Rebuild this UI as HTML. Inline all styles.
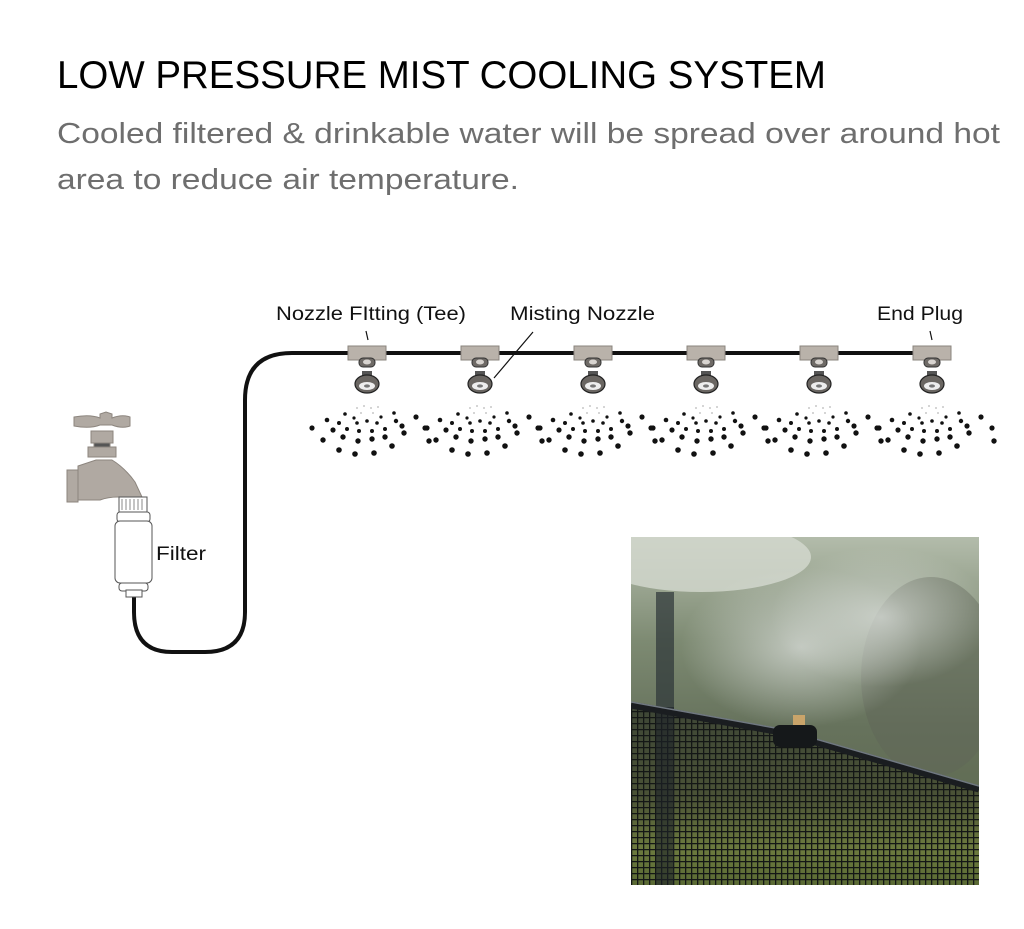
<!DOCTYPE html>
<html><head><meta charset="utf-8"><style>
html,body{margin:0;padding:0;background:#fff;}
svg{display:block;}
</style></head><body>
<svg width="1024" height="929" viewBox="0 0 1024 929" xmlns="http://www.w3.org/2000/svg">
<defs>
<g id="spray">
<g fill="#c8c8c8"><circle cx="-10" cy="55" r="1"/><circle cx="-3" cy="53" r="1"/><circle cx="4" cy="55" r="1"/><circle cx="11" cy="54" r="1"/><circle cx="-6" cy="60" r="1"/><circle cx="6" cy="60" r="1"/></g>
<g fill="#111">
<circle cx="-22" cy="61" r="1.8"/><circle cx="-13" cy="65" r="1.6"/><circle cx="14" cy="64" r="1.6"/><circle cx="27" cy="60" r="1.8"/>
<circle cx="-40" cy="67" r="2.3"/><circle cx="-28" cy="70" r="2"/><circle cx="-10" cy="70" r="1.8"/><circle cx="0" cy="68" r="1.8"/><circle cx="10" cy="70" r="1.8"/><circle cx="29" cy="68" r="2.2"/><circle cx="49" cy="64" r="2.6"/>
<circle cx="-55" cy="75" r="2.6"/><circle cx="-34" cy="77" r="2.6"/><circle cx="-20" cy="76" r="2"/><circle cx="-8" cy="78" r="2"/><circle cx="5" cy="78" r="2"/><circle cx="18" cy="76" r="2"/><circle cx="35" cy="73" r="2.6"/><circle cx="60" cy="75" r="2.6"/>
<circle cx="-44" cy="87" r="2.7"/><circle cx="-24" cy="84" r="2.7"/><circle cx="-9" cy="88" r="2.7"/><circle cx="5" cy="86" r="2.7"/><circle cx="18" cy="84" r="2.7"/><circle cx="37" cy="80" r="2.7"/><circle cx="62" cy="88" r="2.7"/>
<circle cx="-28" cy="97" r="2.8"/><circle cx="-12" cy="101" r="2.8"/><circle cx="7" cy="100" r="2.8"/><circle cx="25" cy="93" r="2.8"/>
</g>
</g>
<g id="noz">
<rect x="-19" y="-7" width="38" height="14" fill="#b9b2aa" stroke="#8a847e" stroke-width="1"/>
<rect x="-8" y="5" width="16" height="9" rx="4" fill="#6e6a66" stroke="#333" stroke-width="1"/>
<ellipse cx="0" cy="9" rx="4" ry="2.5" fill="#d8d4d0"/>
<rect x="-5" y="18" width="10" height="8" fill="#555"/>
<ellipse cx="0" cy="31" rx="12" ry="9" fill="#6a6662" stroke="#222" stroke-width="1.2"/>
<ellipse cx="0" cy="33" rx="8" ry="4" fill="#eee"/>
<ellipse cx="0" cy="33" rx="3" ry="1.6" fill="#777"/>
</g>
<linearGradient id="bg" x1="0" y1="0" x2="0" y2="1">
<stop offset="0" stop-color="#b3bcab"/><stop offset="0.3" stop-color="#7d8a72"/><stop offset="0.55" stop-color="#66725c"/><stop offset="1" stop-color="#5a6448"/>
</linearGradient>
<linearGradient id="gr" x1="0" y1="0" x2="0" y2="1">
<stop offset="0" stop-color="#3e4636"/><stop offset="0.5" stop-color="#4a5236"/><stop offset="0.8" stop-color="#6c7a3e"/><stop offset="1" stop-color="#5a6a34"/>
</linearGradient>
<pattern id="mesh" width="6" height="6" patternUnits="userSpaceOnUse">
<path d="M0 0H6M0 0V6" stroke="#141716" stroke-width="2.6"/>
</pattern>
<radialGradient id="mist" cx="0.5" cy="0.5" r="0.5">
<stop offset="0" stop-color="#d8dcd8" stop-opacity="0.75"/><stop offset="1" stop-color="#d8dcd8" stop-opacity="0"/>
</radialGradient>
</defs>

<text x="57" y="88" font-family="Liberation Sans, sans-serif" font-size="39" fill="#000" textLength="769" lengthAdjust="spacingAndGlyphs">LOW PRESSURE MIST COOLING SYSTEM</text>
<text x="57" y="143" font-family="Liberation Sans, sans-serif" font-size="29" fill="#6e6e6e" textLength="943" lengthAdjust="spacingAndGlyphs">Cooled filtered &amp; drinkable water will be spread over around hot</text>
<text x="57" y="189" font-family="Liberation Sans, sans-serif" font-size="29" fill="#6e6e6e" textLength="462" lengthAdjust="spacingAndGlyphs">area to reduce air temperature.</text>

<g font-family="Liberation Sans, sans-serif" font-size="19" fill="#111">
<text x="276" y="320" textLength="190" lengthAdjust="spacingAndGlyphs">Nozzle FItting (Tee)</text>
<text x="510" y="320" textLength="145" lengthAdjust="spacingAndGlyphs">Misting Nozzle</text>
<text x="877" y="320" textLength="86" lengthAdjust="spacingAndGlyphs">End Plug</text>
<text x="156" y="560" textLength="50" lengthAdjust="spacingAndGlyphs">Filter</text>
</g>
<line x1="366" y1="331" x2="368" y2="340" stroke="#111" stroke-width="1.2"/>
<line x1="930" y1="331" x2="932" y2="340" stroke="#111" stroke-width="1.2"/>
<line x1="533" y1="332" x2="494" y2="378" stroke="#111" stroke-width="1.2"/>

<path d="M134 596 L134 612 Q134 652 172 652 L205 652 Q245 652 245 612 L245 400 Q245 353 292 353 L948 353" fill="none" stroke="#111" stroke-width="4"/>

<use href="#noz" x="367" y="353"/><use href="#noz" x="480" y="353"/><use href="#noz" x="593" y="353"/><use href="#noz" x="706" y="353"/><use href="#noz" x="819" y="353"/><use href="#noz" x="932" y="353"/>
<use href="#spray" x="367" y="353"/><use href="#spray" x="480" y="353"/><use href="#spray" x="593" y="353"/><use href="#spray" x="706" y="353"/><use href="#spray" x="819" y="353"/><use href="#spray" x="932" y="353"/>

<g fill="#b0a9a2" stroke="#8c857e" stroke-width="1">
<path d="M74 417 Q90 414 100 418 L100 414 L106 412 L112 414 L112 418 Q122 414 130 417 L130 426 Q122 429 112 425 L100 425 Q90 429 74 426 Z"/>
<rect x="91" y="431" width="22" height="12"/>
<rect x="94" y="443" width="16" height="4" fill="#555"/>
<rect x="88" y="447" width="28" height="10"/>
<path d="M78 466 L96 460 L112 460 Q125 468 135 482 L142 497 L118 497 Q108 497 100 500 L78 500 Z"/>
<rect x="67" y="470" width="11" height="32"/>
</g>
<rect x="119" y="497" width="28" height="15" fill="#fff" stroke="#555"/>
<path d="M122 499V510M126 499V510M130 499V510M134 499V510M138 499V510M142 499V510" stroke="#888"/>
<rect x="117" y="512" width="33" height="10" rx="3" fill="#fff" stroke="#555"/>
<rect x="115" y="521" width="37" height="62" rx="5" fill="#fff" stroke="#555"/>
<rect x="119" y="583" width="29" height="8" rx="3" fill="#fff" stroke="#555"/>
<rect x="126" y="590" width="16" height="7" fill="#fff" stroke="#555"/>

<svg x="631" y="537" width="348" height="348" viewBox="0 0 348 348">
<rect width="348" height="348" fill="url(#bg)"/>
<ellipse cx="70" cy="20" rx="110" ry="35" fill="#d4d9cf" opacity="0.8"/>
<ellipse cx="300" cy="140" rx="70" ry="100" fill="#5f6657" opacity="0.5"/>
<ellipse cx="170" cy="110" rx="120" ry="80" fill="url(#mist)"/>
<ellipse cx="250" cy="80" rx="110" ry="70" fill="url(#mist)"/>
<rect x="25" y="55" width="18" height="293" fill="#2c3438" opacity="0.7"/>
<path d="M0 168 L150 195 L348 250 L348 348 L0 348 Z" fill="url(#gr)"/>
<path d="M0 168 L150 195 L348 250 L348 348 L0 348 Z" fill="url(#mesh)"/>
<rect x="25" y="170" width="18" height="178" fill="#1c2228" opacity="0.6"/>
<path d="M0 168 L150 195 L348 252" fill="none" stroke="#1a1d20" stroke-width="7"/>
<path d="M0 165 L150 192 L348 249" fill="none" stroke="#707880" stroke-width="1.5"/>
<rect x="142" y="188" width="44" height="22" rx="7" fill="#15181a"/>
<rect x="162" y="178" width="12" height="10" fill="#c9a46a"/>
</svg>
</svg>
</body></html>
